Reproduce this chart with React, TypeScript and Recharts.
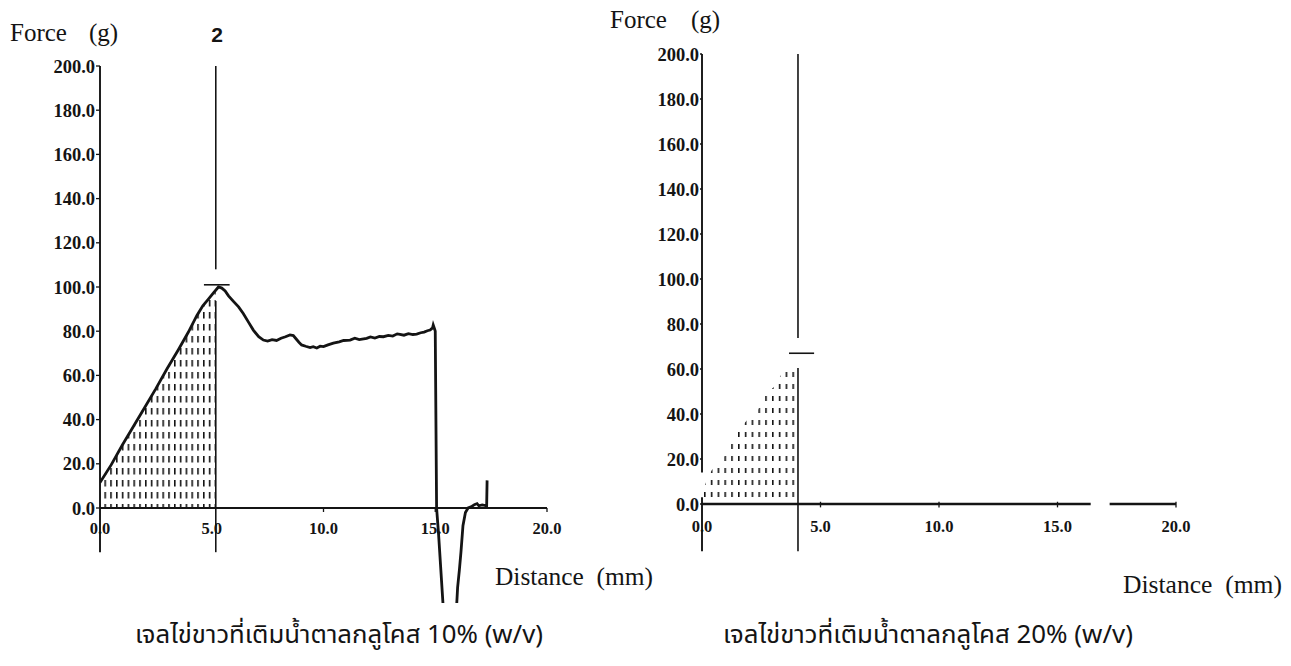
import {
  ComposedChart,
  Line,
  Area,
  XAxis,
  YAxis,
  ReferenceLine,
  ReferenceDot,
} from 'recharts';

// ---- left panel: 10% glucose ----
const leftDistance = [
  0, 0.5, 1.0, 1.5, 2.0, 2.5, 3.0, 3.5, 3.95, 4.33, 4.6, 4.85, 5.05, 5.3, 5.45, 5.6, 5.75, 5.97,
  6.2, 6.41, 6.65, 6.86, 7.1, 7.31, 7.5, 7.7, 7.9, 8.1, 8.3, 8.5, 8.65, 8.75, 8.9, 9.02, 9.2, 9.4,
  9.54, 9.7, 9.85, 10.0, 10.2, 10.44, 10.7, 10.9, 11.19, 11.4, 11.6, 11.93, 12.1, 12.3, 12.5,
  12.68, 12.9, 13.1, 13.3, 13.42, 13.6, 13.8, 14.0, 14.17, 14.35, 14.5, 14.65, 14.77, 14.88,
  14.91, 14.97, 15.0, 15.03, 15.06, 15.15, 15.25, 15.42, 15.9, 16.0, 16.08, 16.15, 16.24, 16.35,
  16.47, 16.6, 16.75, 16.87, 16.95, 17.1, 17.3, 17.32,
];
const leftForce = [
  11.5, 19.5, 28.5, 37, 45.5, 54, 63, 71.5, 79.5, 87, 91.5, 94.5, 97, 100, 99.5, 98.2, 96, 93.5,
  91, 88, 84, 80.5, 77.5, 76, 75.5, 76.2, 75.8, 76.8, 77.5, 78.3, 78, 76.8, 75, 73.8, 73.2, 72.6,
  73, 72.4, 73.2, 73, 73.8, 74.6, 75.2, 75.8, 76, 76.8, 76.2, 76.8, 77.4, 76.9, 77.6,
  77.5, 78.1, 77.8, 78.8, 78.6, 78.2, 78.9, 78.5, 78.7, 79.3, 79.6, 80.2, 80.5, 81.5,
  82.8, 81, 80, 40, 0, -12, -28, -55, -55, -36, -28, -20, -8, -2,
  0, 0.5, 1.5, 2, 1, 1.4, 1, 12.5,
];
// dotted area under the curve up to the marker
const leftHatchDistance = [0, 0.5, 1.0, 1.5, 2.0, 2.5, 3.0, 3.5, 3.95, 4.33, 4.6, 4.85, 5.05, 5.18];
const leftHatchForce = [11.5, 19.5, 28.5, 37, 45.5, 54, 63, 71.5, 79.5, 87, 91.5, 94.5, 97, 98.5];

// ---- right panel: 20% glucose ----
const rightHatchDistance = [0, 0.18, 0.41, 0.9, 1.18, 1.39, 1.88, 2.37, 2.61, 3.12, 3.36, 3.9, 4.05];
const rightHatchForce = [5, 10, 15, 20.5, 25.5, 31, 37, 42, 47.5, 53, 58, 60.5, 61];
const rightBaseDistance = [0, 16.4, 16.8, 17.2, 20];
const rightBaseForce: (number | null)[] = [0, 0, null, 0, 0];

const yTicks = [0, 20, 40, 60, 80, 100, 120, 140, 160, 180, 200];
const xTicks = [0, 5, 10, 15, 20];

interface Point {
  d: number;
  f: number | null;
}

interface Marker {
  x: number;
  upperEnd: number;
  lowerStart: number;
  bottom: number;
  peak: number;
  peakFrom: number;
  peakTo: number;
}

const leftMarker: Marker = { x: 5.18, upperEnd: 108, lowerStart: 93.7, bottom: -20, peak: 101, peakFrom: 4.65, peakTo: 5.8 };
const rightMarker: Marker = { x: 4.05, upperEnd: 73.8, lowerStart: 60.4, bottom: -21, peak: 67, peakFrom: 3.67, peakTo: 4.73 };

const zip = (xs: number[], ys: (number | null)[]): Point[] => xs.map((d, i) => ({ d, f: ys[i] }));

const leftTrace = zip(leftDistance, leftForce);
const leftHatch = zip(leftHatchDistance, leftHatchForce);
const rightHatch = zip(rightHatchDistance, rightHatchForce);
const rightBase = zip(rightBaseDistance, rightBaseForce);

const INK = '#141414';
const tickFont = { fontFamily: 'Liberation Serif', fontWeight: 700, fill: INK };

interface PanelProps {
  id: string;
  left: number;
  width: number;
  margin: { top: number; right: number; bottom: number; left: number };
  yMin: number;
  trace?: Point[];
  base?: Point[];
  hatch: Point[];
  marker: Marker;
  axisSpans: number[][];
  xAxisLine: boolean;
  tickMarks: number[];
  tickUp: number;
  tickDown: number;
  yTickSize: number;
  labelOffset: number;
  pat: { w: number; h: number; dw: number; dh: number };
}

const Panel = (p: PanelProps) => {
  const m = p.marker;
  // x tick label drawn at the scaled (t, 0) position
  const xLabel = (t: number) => (props: any) => (
    <text x={props.cx} y={props.cy + p.labelOffset} textAnchor="middle" fontSize={16.5} {...tickFont}>
      {t.toFixed(1)}
    </text>
  );
  return (
    <div style={{ position: 'absolute', left: p.left, top: 0 }}>
      <ComposedChart width={p.width} height={620} margin={p.margin}>
        <defs>
          <pattern id={p.id} patternUnits="userSpaceOnUse" width={p.pat.w} height={p.pat.h}>
            <rect x={0} y={0} width={p.pat.dw} height={p.pat.dh} fill={INK} />
          </pattern>
        </defs>
        <XAxis type="number" dataKey="d" domain={[0, 20]} hide allowDataOverflow />
        <YAxis
          type="number"
          domain={[p.yMin, 200]}
          ticks={yTicks}
          interval={0}
          width={100}
          axisLine={false}
          tickSize={p.yTickSize}
          tickMargin={1}
          tickLine={{ stroke: INK, strokeWidth: 1.3 }}
          tickFormatter={(v: number) => v.toFixed(1)}
          fontSize={18.5}
          tick={{ ...tickFont, fontSize: 18.5 }}
          allowDataOverflow
        />
        <Area
          data={p.hatch}
          dataKey="f"
          type="linear"
          stroke="none"
          fill={`url(#${p.id})`}
          fillOpacity={1}
          isAnimationActive={false}
        />
        {p.trace && (
          <Line data={p.trace} dataKey="f" type="linear" stroke={INK} strokeWidth={2.8} dot={false} isAnimationActive={false} />
        )}
        {p.base && (
          <Line data={p.base} dataKey="f" type="linear" stroke={INK} strokeWidth={2.4} dot={false} connectNulls={false} isAnimationActive={false} />
        )}
        {/* y axis line (may be broken) */}
        {p.axisSpans.map(([a, b], i) => (
          <ReferenceLine key={'ax' + i} segment={[{ x: 0, y: a }, { x: 0, y: b }]} stroke={INK} strokeWidth={1.9} />
        ))}
        {p.xAxisLine && <ReferenceLine y={0} stroke={INK} strokeWidth={1.9} />}
        {p.tickMarks.map((t) => (
          <ReferenceLine key={'tm' + t} segment={[{ x: t, y: p.tickUp }, { x: t, y: -p.tickDown }]} stroke={INK} strokeWidth={1.3} />
        ))}
        {xTicks.map((t) => (
          <ReferenceDot key={'tl' + t} x={t} y={0} r={1} shape={xLabel(t)} />
        ))}
        {/* peak marker */}
        <ReferenceLine segment={[{ x: m.x, y: m.upperEnd }, { x: m.x, y: 200 }]} stroke={INK} strokeWidth={1.6} />
        <ReferenceLine segment={[{ x: m.x, y: m.bottom }, { x: m.x, y: m.lowerStart }]} stroke={INK} strokeWidth={1.6} />
        <ReferenceLine segment={[{ x: m.peakFrom, y: m.peak }, { x: m.peakTo, y: m.peak }]} stroke={INK} strokeWidth={1.6} />
      </ComposedChart>
    </div>
  );
};

const serif = 'Liberation Serif';
const thai = "'Noto Sans Thai', 'Tahoma', 'Loma', 'Garuda', sans-serif";

const App = () => {
  return (
    <div style={{ position: 'absolute', left: 0, top: 0, width: 1291, height: 666, background: '#fff', overflow: 'hidden' }}>
      <Panel
        id="hatchL"
        left={0}
        width={600}
        margin={{ top: 66, right: 53, bottom: 620 - (508 + 43 * 2.21), left: 0 }}
        yMin={-43}
        trace={leftTrace}
        hatch={leftHatch}
        marker={leftMarker}
        axisSpans={[[-20, 200]]}
        xAxisLine
        tickMarks={[10, 15, 20]}
        tickUp={0}
        tickDown={1.8}
        yTickSize={4}
        labelOffset={26}
        pat={{ w: 5.8, h: 12, dw: 1.6, dh: 6.5 }}
      />
      <Panel
        id="hatchR"
        left={602}
        width={620}
        margin={{ top: 54, right: 46, bottom: 620 - (504 + 22 * 2.25), left: 0 }}
        yMin={-22}
        base={rightBase}
        hatch={rightHatch}
        marker={rightMarker}
        axisSpans={[[-21, 3], [14, 200]]}
        xAxisLine={false}
        tickMarks={[5, 10, 15, 20]}
        tickUp={1}
        tickDown={1.5}
        yTickSize={2}
        labelOffset={28}
        pat={{ w: 6.8, h: 12, dw: 1.6, dh: 5 }}
      />
      <svg width={1291} height={666} style={{ position: 'absolute', left: 0, top: 0, pointerEvents: 'none' }}>
        <text x={10} y={41} fontFamily={serif} fontSize={25} fill={INK}>
          Force<tspan dx={22}>(g)</tspan>
        </text>
        <text x={217} y={42} fontFamily="Liberation Sans" fontWeight={700} fontSize={21} fill={INK} textAnchor="middle">
          2
        </text>
        <text x={610} y={28} fontFamily={serif} fontSize={25} fill={INK}>
          Force<tspan dx={24}>(g)</tspan>
        </text>
        <text x={495} y={585} fontFamily={serif} fontSize={25} fill={INK} textLength={158} lengthAdjust="spacingAndGlyphs" style={{ whiteSpace: 'pre' }}>
          Distance  (mm)
        </text>
        <text x={1123} y={593} fontFamily={serif} fontSize={25} fill={INK} textLength={159} lengthAdjust="spacingAndGlyphs" style={{ whiteSpace: 'pre' }}>
          Distance  (mm)
        </text>
        <text x={135} y={643} fontFamily={thai} fontSize={25} fill={INK} textLength={408} lengthAdjust="spacingAndGlyphs">
          เจลไข่ขาวที่เติมน้ำตาลกลูโคส 10% (w/v)
        </text>
        <text x={723} y={643} fontFamily={thai} fontSize={25} fill={INK} textLength={410} lengthAdjust="spacingAndGlyphs">
          เจลไข่ขาวที่เติมน้ำตาลกลูโคส 20% (w/v)
        </text>
      </svg>
    </div>
  );
};

export default App;
